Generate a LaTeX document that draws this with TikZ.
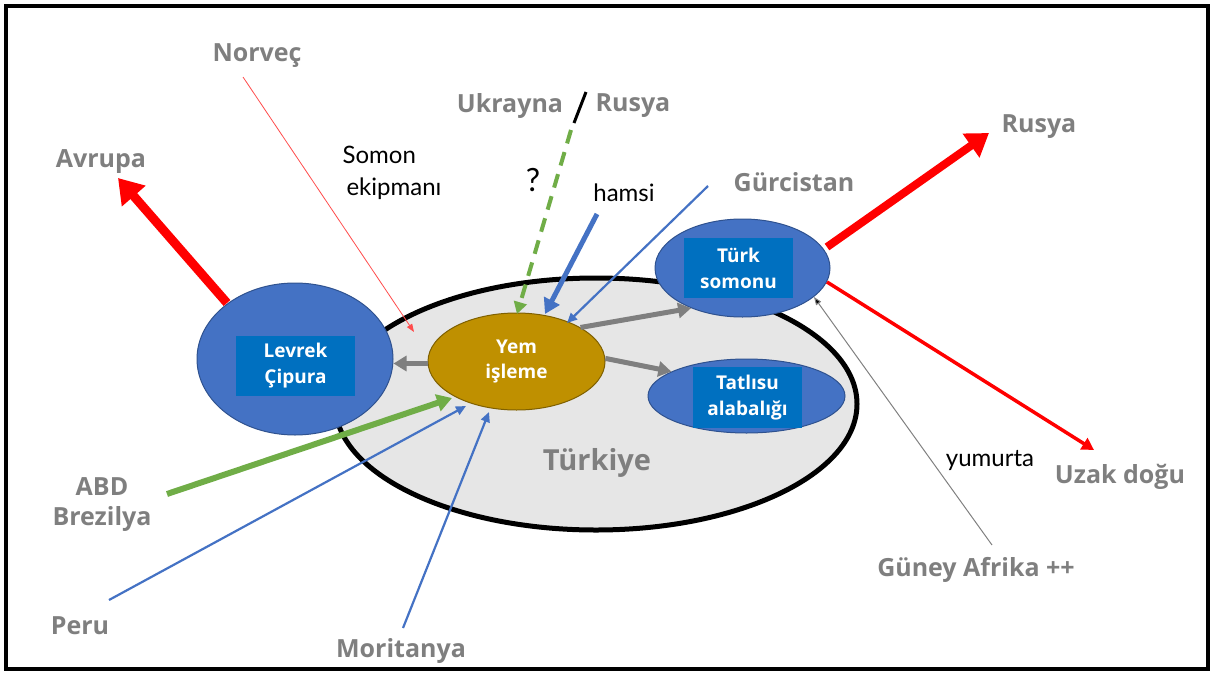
\documentclass[tikz,border=0pt]{standalone}
\usepackage{fontspec}
\setmainfont{Open Sans}
\newfontfamily\thinfont{Lato}
\usetikzlibrary{shapes.geometric,arrows.meta}
\definecolor{lblgray}{HTML}{7F7F7F}
\definecolor{fishblue}{HTML}{4472C4}
\definecolor{boxblue}{HTML}{0070C0}
\definecolor{edgeblue}{HTML}{2F528F}
\definecolor{gold}{HTML}{BF9000}
\definecolor{goldedge}{HTML}{7F6000}
\definecolor{flowgreen}{HTML}{70AD47}
\definecolor{flowblue}{HTML}{4472C4}
\definecolor{landgray}{HTML}{E6E6E6}
\definecolor{lightred}{HTML}{FF7070}
\tikzset{
  country/.style={text=lblgray, font=\bfseries\fontsize{25}{30}\selectfont, align=center, inner sep=0pt, yshift=-2pt},
  note/.style={text=black, font=\thinfont\fontsize{24}{32}\selectfont, align=left, inner sep=0pt},
  fish/.style={ellipse, draw=edgeblue, line width=1pt, fill=fishblue, inner sep=0pt},
  fishbox/.style={fill=boxblue, text=white, font=\bfseries\fontsize{19}{26}\selectfont, align=center, inner sep=0pt},
  redbig/.style={draw=red, line width=9pt, -{Triangle[length=24pt,width=30pt]}},
  redmid/.style={draw=red, line width=8pt, -{Triangle[length=22pt,width=28pt]}},
  redthin/.style={draw=red, line width=3.5pt, -{Triangle[length=12pt,width=13pt]}},
  grayflow/.style={draw=lblgray, line width=5pt, -{Triangle[length=13pt,width=15pt]}},
  bluethick/.style={draw=flowblue, line width=5pt, -{Triangle[length=15pt,width=17pt]}},
  bluethin/.style={draw=flowblue, line width=2.2pt, -{Triangle[length=10pt,width=9pt]}},
  greenthick/.style={draw=flowgreen, line width=6pt, -{Triangle[length=15pt,width=17pt]}},
  greendash/.style={draw=flowgreen, line width=4pt, dash pattern=on 14pt off 9pt, -{Triangle[length=12pt,width=13pt]}},
}
\begin{document}
\begin{tikzpicture}[x=1pt,y=-1pt]
\useasboundingbox (0,0) rectangle (1213,675);
\draw[line width=4pt] (6,6) rectangle (1208,669);

% land
\node[ellipse, draw=black, line width=5pt, fill=landgray, minimum width=522pt, minimum height=252pt, inner sep=0pt] (tr) at (596,404) {};
\node[text=lblgray, font=\bfseries\fontsize{29}{34}\selectfont, inner sep=0pt] (trlbl) at (597,463) {Türkiye};

% coordinates for free ends
\coordinate (avrS) at (227,303);
\coordinate (avrT) at (118,178);
\coordinate (rusS) at (827,247);
\coordinate (rusT) at (989,133);
\coordinate (uzS) at (827,282);
\coordinate (uzT) at (1094,450);
\coordinate (norS) at (243,77);
\coordinate (norT) at (414,332);
\coordinate (ukrS) at (571,130);
\coordinate (ukrT) at (517,314);
\coordinate (hamS) at (597,214);
\coordinate (hamT) at (545,314);
\coordinate (gurS) at (708,186);
\coordinate (gurT) at (567,323);
\coordinate (abdS) at (167,494);
\coordinate (abdT) at (452,398);
\coordinate (perS) at (109,600);
\coordinate (perT) at (466,406);
\coordinate (morS) at (403,628);
\coordinate (morT) at (489,412);
\coordinate (afrS) at (992,545);
\coordinate (afrT) at (814,297);
\coordinate (slA) at (586,92);
\coordinate (slB) at (574,123);

% thin inputs (under the nodes)
\draw[draw=lightred, line width=0.8pt, -{Triangle[length=8pt,width=6pt]}, color=red!70] (norS) -- (norT);
\draw[draw=gray, line width=1pt, -{Triangle[length=8pt,width=6pt,fill=black]}] (afrS) -- (afrT);

% production nodes
\node[fish, minimum width=196pt, minimum height=152pt] (lev) at (295,359) {};
\node[fishbox, minimum width=119pt, minimum height=60pt] (levbox) at (295.5,366) {Levrek\\Çipura};
\node[ellipse, draw=goldedge, line width=1pt, fill=gold, minimum width=177pt, minimum height=97pt, inner sep=0pt, text=white, font=\bfseries\fontsize{19}{25}\selectfont, align=center] (yem) at (516.5,361.5) {Yem\\işleme};
\node[fish, minimum width=175pt, minimum height=98pt] (som) at (742.5,268) {};
\node[fishbox, minimum width=109pt, minimum height=60pt] (sombox) at (738.5,268) {Türk\\somonu};
\node[fish, minimum width=197pt, minimum height=74pt] (tat) at (746.5,396) {};
\node[fishbox, minimum width=109pt, minimum height=61pt] (tatbox) at (747.5,397.5) {Tatlısu\\alabalığı};

% labels
\node[country] (nor) at (257,54) {Norveç};
\node[country] (ukr) at (510,104) {Ukrayna};
\node[country] (rus1) at (633,104) {Rusya};
\node[country] (avr) at (101,160) {Avrupa};
\node[country] (rus2) at (1039,125) {Rusya};
\node[country] (gur) at (794,180) {Gürcistan};
\node[country] (uzak) at (1120,475) {Uzak doğu};
\node[country] (afr) at (976,568) {Güney Afrika ++};
\node[country] (abd) at (102,503) {ABD\\Brezilya};
\node[country] (peru) at (80,624) {Peru};
\node[country] (mor) at (401,649) {Moritanya};

\node[note] (somon) at (392,173) {Somon\\\hspace*{4pt}ekipmanı};
\node[note, font=\thinfont\fontsize{32}{36}\selectfont] (q) at (533,180) {?};
\node[note] (hamsi) at (624,193) {hamsi};
\node[note] (yum) at (990,460) {yumurta};

% slash between Ukrayna and Rusya
\draw[line width=3pt, line cap=butt] (slA) -- (slB);

% flows
\draw[redbig] (avrS) -- (avrT);
\draw[redmid] (rusS) -- (rusT);
\draw[redthin] (uzS) -- (uzT);
\draw[greendash] (ukrS) -- (ukrT);
\draw[bluethick] (hamS) -- (hamT);
\draw[bluethin] (gurS) -- (gurT);
\draw[greenthick] (abdS) -- (abdT);
\draw[bluethin] (perS) -- (perT);
\draw[bluethin] (morS) -- (morT);

\draw[grayflow] (yem.west) ++(0,2) coordinate (yw) -- (lev.east |- yw);
\draw[grayflow] (yem.28) -- (som.218);
\draw[grayflow] (yem.2) -- (tat.162);
\end{tikzpicture}
\end{document}
